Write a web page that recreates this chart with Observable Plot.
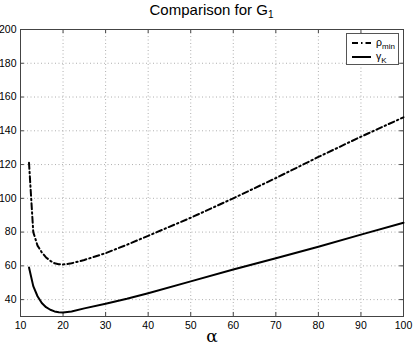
<!DOCTYPE html>
<html>
<head>
<meta charset="utf-8">
<script src="https://cdn.jsdelivr.net/npm/d3@7"></script>
<script src="https://cdn.jsdelivr.net/npm/@observablehq/plot@0.6"></script>
<style>
  body { margin: 0; background: #fff; color: #000; font-family: "Liberation Sans", Arial, Helvetica, sans-serif; }
  #wrap { position: relative; width: 415px; height: 346px; }
  #title { position: absolute; left: 20px; width: 383px; top: 1px; text-align: center; font-size: 15px; color: #000; }
  #title sub { font-size: 10px; vertical-align: -3px; }
  #legend { position: absolute; left: 346px; top: 33px; width: 53px; height: 32px; border: 1px solid #555; background: #fff; box-sizing: border-box; font-size: 10.5px; color: #000; }
  #legend .row { position: absolute; left: 5px; height: 14px; display: flex; align-items: center; color: #000; }
  #legend sub { font-size: 8px; vertical-align: -3px; color: #000; }
  #legend span.t { margin-left: 5px; color: #000; }
</style>
</head>
<body>
<div id="wrap">
  <div id="title">Comparison for G<sub>1</sub></div>
  <div id="chart"></div>
  <div id="legend">
    <div class="row" style="top:2px"><svg width="19" height="6"><line x1="0" y1="3" x2="19" y2="3" stroke="#000" stroke-width="2" stroke-dasharray="6,3,1.5,3"/></svg><span class="t">ρ<sub>min</sub></span></div>
    <div class="row" style="top:16px"><svg width="19" height="6"><line x1="0" y1="3" x2="19" y2="3" stroke="#000" stroke-width="2"/></svg><span class="t">γ<sub>K</sub></span></div>
  </div>
</div>
<script>
const alpha  = [12, 13, 14, 15, 16, 17, 18, 19, 20, 22, 25, 30, 35, 40, 50, 60, 70, 80, 90, 100];
const rhoMin = [121, 80, 72, 68, 65, 63, 61.5, 61, 60.8, 61.5, 63.5, 67.5, 72.5, 77.8, 88.5, 100, 112, 124.5, 136.5, 148];
const gammaK = [59, 48, 42, 38, 35.5, 34, 33, 32.5, 32.4, 33, 34.8, 37.5, 40.5, 43.8, 50.8, 57.8, 64.5, 71.3, 78.5, 85.5];
const xTicks = [10, 20, 30, 40, 50, 60, 70, 80, 90, 100];
const yTicks = [40, 60, 80, 100, 120, 140, 160, 180, 200];
const xDomain = [10, 100];
const yDomain = [30, 200];

const rho = alpha.map((a, i) => ({a, v: rhoMin[i]}));
const gam = alpha.map((a, i) => ({a, v: gammaK[i]}));

const tickLenY = 2.4; // in y units (~4px)
const tickLenX = 0.9; // in x units (~4px)
const gridStyle = {stroke: "#9a9a9a", strokeWidth: 0.8, strokeDasharray: "1,2.5"};

const chart = Plot.plot({
  width: 415,
  height: 346,
  marginTop: 29,
  marginBottom: 30,
  marginLeft: 20,
  marginRight: 12,
  style: {fontFamily: "Liberation Sans, Arial, Helvetica, sans-serif", background: "transparent", color: "#000"},
  x: {domain: xDomain},
  y: {domain: yDomain},
  marks: [
    Plot.ruleX(xTicks.filter(d => d > xDomain[0] && d < xDomain[1]), {...gridStyle}),
    Plot.ruleY(yTicks.filter(d => d > yDomain[0] && d < yDomain[1]), {...gridStyle}),
    Plot.ruleX(xTicks, {y1: yDomain[0], y2: yDomain[0] + tickLenY, stroke: "#444"}),
    Plot.ruleX(xTicks, {y1: yDomain[1], y2: yDomain[1] - tickLenY, stroke: "#444"}),
    Plot.ruleY(yTicks, {x1: xDomain[0], x2: xDomain[0] + tickLenX, stroke: "#444"}),
    Plot.ruleY(yTicks, {x1: xDomain[1], x2: xDomain[1] - tickLenX, stroke: "#444"}),
    Plot.frame({stroke: "#444"}),
    Plot.axisX({ticks: xTicks, tickSize: 0, tickPadding: 5, fontSize: 10.5, label: null, tickFormat: d => String(d)}),
    Plot.axisY({ticks: yTicks, tickSize: 0, tickPadding: 4, fontSize: 10.5, label: null, tickFormat: d => String(d)}),
    Plot.text(["α"], {frameAnchor: "bottom", dy: 25, fontSize: 17, fontFamily: "DejaVu Serif, serif", fill: "#000"}),
    Plot.line(rho, {x: "a", y: "v", stroke: "#000", strokeWidth: 2, strokeDasharray: "6,3,1.5,3"}),
    Plot.line(gam, {x: "a", y: "v", stroke: "#000", strokeWidth: 2})
  ]
});
document.getElementById("chart").appendChild(chart);
</script>
</body>
</html>
